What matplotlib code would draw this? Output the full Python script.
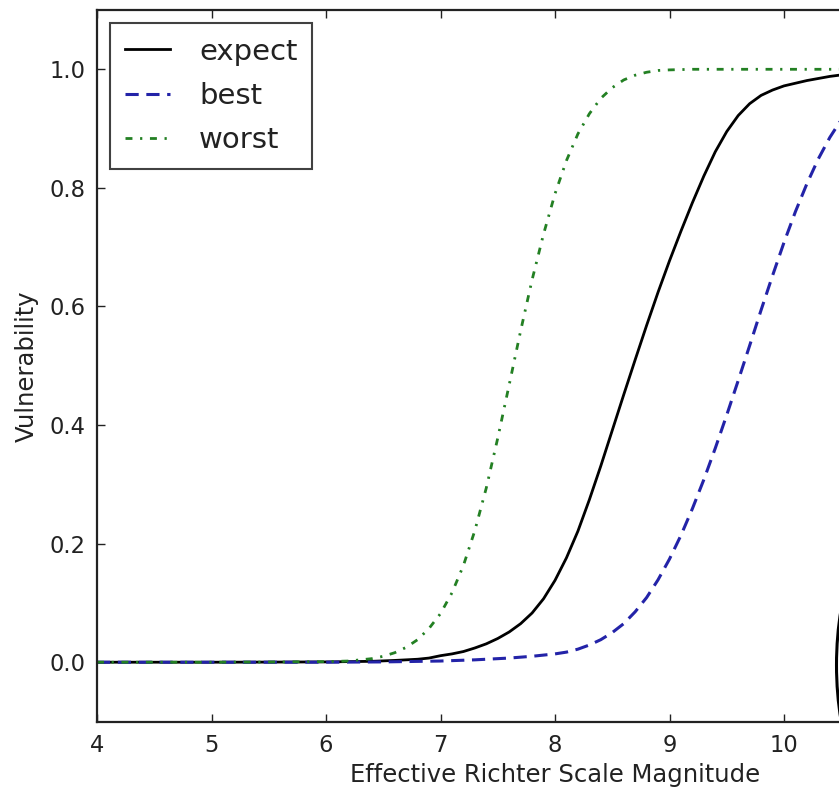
import matplotlib
matplotlib.use("Agg")
import matplotlib.pyplot as plt
from matplotlib.patches import Ellipse

plt.rcParams['font.family'] = ['DejaVu Sans']
plt.rcParams['lines.scale_dashes'] = False

# Data (magnitude -> vulnerability)
mag_expect = [4.0, 5.0, 5.5, 6.0, 6.4, 6.6, 6.8, 6.9, 7.0, 7.1, 7.2, 7.3, 7.4, 7.5, 7.6,
              7.7, 7.8, 7.9, 8.0, 8.1, 8.2, 8.3, 8.4, 8.5, 8.6, 8.7, 8.8, 8.9, 9.0, 9.1,
              9.2, 9.3, 9.4, 9.5, 9.6, 9.7, 9.8, 9.9, 10.0, 10.2, 10.4, 10.6, 11.0, 12.0]
vul_expect = [0.0, 0.0, 0.0002, 0.0005, 0.0015, 0.003, 0.005, 0.007, 0.011, 0.014, 0.018,
              0.024, 0.031, 0.040, 0.051, 0.065, 0.083, 0.107, 0.138, 0.176, 0.221, 0.274,
              0.331, 0.391, 0.451, 0.510, 0.568, 0.624, 0.677, 0.727, 0.775, 0.820, 0.861,
              0.895, 0.922, 0.942, 0.956, 0.965, 0.972, 0.981, 0.988, 0.993, 0.998, 1.0]

mag_best = [4.0, 5.0, 6.0, 6.5, 7.0, 7.3, 7.6, 7.8, 7.9, 8.0, 8.1, 8.2, 8.3, 8.4, 8.5,
            8.6, 8.7, 8.8, 8.9, 9.0, 9.1, 9.2, 9.3, 9.4, 9.5, 9.6, 9.7, 9.8, 9.9, 10.0,
            10.1, 10.2, 10.3, 10.4, 10.5, 10.6, 10.7, 10.8, 11.0, 11.5, 12.0]
vul_best = [0.0, 0.0, 0.0, 0.0005, 0.002, 0.004, 0.007, 0.010, 0.012, 0.014, 0.017,
            0.022, 0.029, 0.038, 0.050, 0.065, 0.085, 0.109, 0.139, 0.174, 0.214, 0.259,
            0.308, 0.361, 0.417, 0.475, 0.534, 0.594, 0.652, 0.708, 0.760, 0.807, 0.849,
            0.885, 0.915, 0.939, 0.958, 0.972, 0.988, 0.998, 1.0]

mag_worst = [4.0, 5.0, 5.5, 6.0, 6.1, 6.2, 6.3, 6.4, 6.5, 6.6, 6.7, 6.8, 6.9, 7.0, 7.1,
             7.2, 7.3, 7.4, 7.5, 7.6, 7.7, 7.8, 7.9, 8.0, 8.1, 8.2, 8.3, 8.4, 8.5, 8.6,
             8.7, 8.8, 8.9, 9.0, 9.2, 10.0, 12.0]
vul_worst = [0.0, 0.0, 0.0003, 0.001, 0.0015, 0.002, 0.004, 0.006, 0.010, 0.016, 0.025,
             0.038, 0.057, 0.082, 0.117, 0.163, 0.222, 0.294, 0.378, 0.468, 0.559, 0.645,
             0.722, 0.790, 0.846, 0.891, 0.925, 0.951, 0.969, 0.982, 0.990, 0.995, 0.998,
             0.999, 1.0, 1.0, 1.0]

series_labels = ["expect", "best", "worst"]
x_ticks = [4, 5, 6, 7, 8, 9, 10]
y_ticks = [0.0, 0.2, 0.4, 0.6, 0.8, 1.0]

W, H = 839, 789
fig = plt.figure(figsize=(W / 100, H / 100), dpi=100)
ax = fig.add_axes([97 / W, (H - 721.5) / H, 8 * 114.5 / W, (721.5 - 10) / H])

ax.plot(mag_expect, vul_expect, color='black', lw=2.0, ls='-', label=series_labels[0])
ax.plot(mag_best, vul_best, color='#2323a8', lw=2.2, dashes=(9.5, 5.5), label=series_labels[1])
ax.plot(mag_worst, vul_worst, color='#238023', lw=2.0, dashes=(5.0, 5.5, 1.6, 5.5),
        label=series_labels[2])

ax.set_xlim(4, 12)
ax.set_ylim(-0.1, 1.1)
ax.set_xticks(x_ticks)
ax.set_yticks(y_ticks)
ax.set_yticklabels([f"{v:.1f}" for v in y_ticks])
ax.tick_params(direction='in', length=6, width=1, top=True, right=True,
               labelsize=16.3, colors='#222222', pad=8)
ax.tick_params(axis='x', pad=9)
for sp in ax.spines.values():
    sp.set_linewidth(1.6)
    sp.set_color('#222222')

ax.set_xlabel("Effective Richter Scale Magnitude", fontsize=17.5, color='#222222', labelpad=4)
ax.set_ylabel("Vulnerability", fontsize=17.5, color='#222222', labelpad=8)

leg = ax.legend(loc='upper left', fontsize=21, frameon=True, fancybox=False,
                handlelength=1.55, handletextpad=1.0, labelspacing=0.56,
                borderpad=0.5, borderaxespad=0.45)
leg.get_frame().set_edgecolor('#111111')
leg.get_frame().set_linewidth(1.5)
for t in leg.get_texts():
    t.set_color('#222222')

# partial black ellipse outline at the right edge (cropped)
ell = Ellipse((896.5 / W, (H - 665) / H), 120 / W, 290 / H, transform=fig.transFigure,
              fill=False, edgecolor='black', lw=2.2, clip_on=False)
fig.patches.append(ell)

fig.savefig("out.png", dpi=100)
